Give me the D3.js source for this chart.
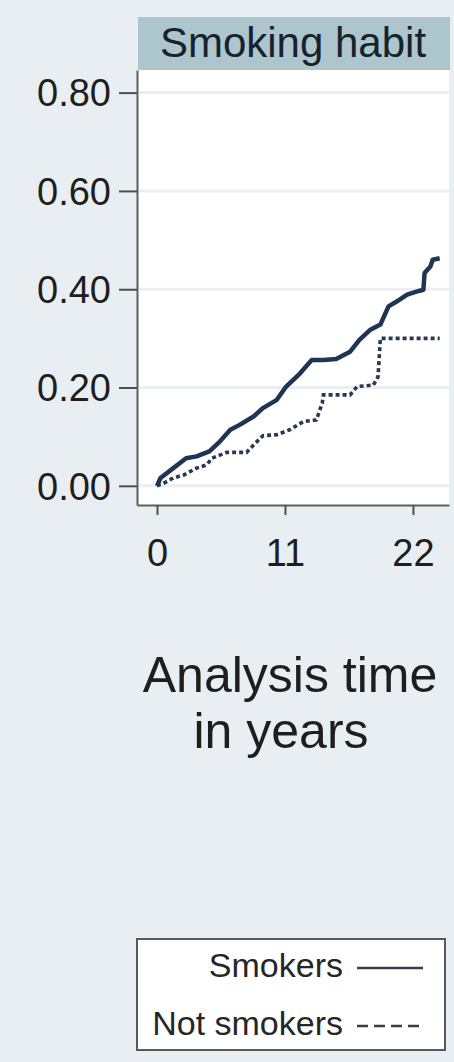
<!DOCTYPE html>
<html>
<head>
<meta charset="utf-8">
<script src="https://cdn.jsdelivr.net/npm/d3@7"></script>
<style>
  body { margin: 0; background: #e9eef2; }
  svg { display: block; font-family: "Liberation Sans", Arial, sans-serif; }
</style>
</head>
<body>
<div id="chart"></div>
<script>
// cumulative failure by analysis time (years)
const smokersTime = [0, 0.3, 1.4, 2.5, 3.4, 4.5, 5.4, 6.3, 7.1, 8.3, 9.1, 10.3, 11.1, 12.3, 13.3, 14.3, 15.4, 16.6, 17.4, 18.3, 19.2, 19.9, 20.6, 21.5, 22.3, 22.9, 23.0, 23.5, 23.7, 24.3];
const smokersFail = [0, 0.016, 0.036, 0.056, 0.060, 0.070, 0.090, 0.114, 0.124, 0.141, 0.158, 0.175, 0.202, 0.229, 0.256, 0.256, 0.258, 0.273, 0.297, 0.317, 0.328, 0.365, 0.375, 0.389, 0.395, 0.399, 0.433, 0.446, 0.460, 0.463];

const notSmokersTime = [0, 0.55, 1.4, 2.3, 3.4, 4.3, 4.7, 6.0, 7.7, 8.3, 9.1, 10.3, 11.4, 12.6, 13.7, 14.2, 14.3, 16.6, 17.2, 18.6, 19.0, 19.2, 24.3];
const notSmokersFail = [0, 0.005, 0.016, 0.022, 0.036, 0.043, 0.056, 0.068, 0.068, 0.083, 0.102, 0.104, 0.114, 0.131, 0.134, 0.168, 0.185, 0.185, 0.202, 0.205, 0.222, 0.300, 0.300];

const yTicks = [0, 0.2, 0.4, 0.6, 0.8];
const xTicks = [0, 11, 22];
const panelTitle = "Smoking habit";
const axisTitle = ["Analysis time", "in years"];
const seriesNames = ["Smokers", "Not smokers"];

const W = 454, H = 1062;
const plot = { left: 137, right: 449, top: 70, bottom: 505 };

const svg = d3.select("#chart").append("svg")
    .attr("width", W)
    .attr("height", H);

svg.append("rect").attr("width", W).attr("height", H).attr("fill", "#e9eef2");

const x = d3.scaleLinear().domain([-1.72, 25.1]).range([plot.left, plot.right]);
const y = d3.scaleLinear().domain([-0.039, 0.846]).range([plot.bottom, plot.top]);

// plot area
svg.append("rect")
    .attr("x", plot.left).attr("y", plot.top)
    .attr("width", plot.right - plot.left).attr("height", plot.bottom - plot.top)
    .attr("fill", "#ffffff");

// title strip
svg.append("rect")
    .attr("x", 138).attr("y", 17)
    .attr("width", 312).attr("height", 53)
    .attr("fill", "#adc5cd");
svg.append("text")
    .attr("x", 293).attr("y", 57)
    .attr("text-anchor", "middle")
    .attr("font-size", 42)
    .attr("fill", "#18222c")
    .text(panelTitle);

// gridlines
svg.append("g").selectAll("line").data(yTicks).join("line")
    .attr("x1", plot.left + 2).attr("x2", plot.right)
    .attr("y1", d => y(d)).attr("y2", d => y(d))
    .attr("stroke", "#eceff2").attr("stroke-width", 3);

// axes
const yAxis = svg.append("g")
    .attr("transform", `translate(${plot.left},0)`)
    .call(d3.axisLeft(y).tickValues(yTicks).tickFormat(d3.format(".2f"))
        .tickSize(18).tickSizeOuter(0).tickPadding(8));
const xAxis = svg.append("g")
    .attr("transform", `translate(0,${plot.bottom})`)
    .call(d3.axisBottom(x).tickValues(xTicks).tickSize(10).tickSizeOuter(0).tickPadding(24));

[yAxis, xAxis].forEach(g => {
    g.select(".domain").attr("stroke", "#5a5f64").attr("stroke-width", 2);
    g.selectAll(".tick line").attr("stroke", "#4a4f54").attr("stroke-width", 2);
    g.selectAll(".tick text")
        .attr("font-size", 38)
        .attr("font-family", "Liberation Sans, Arial, sans-serif")
        .attr("fill", "#1e1e1e");
});
yAxis.selectAll(".tick text").attr("dy", "0.35em");
xAxis.selectAll(".tick text").attr("dy", "0.71em");

// curves
const line = d3.line()
    .x(d => x(d[0]))
    .y(d => y(d[1]))
    .curve(d3.curveLinear);

const smokers = smokersTime.map((t, i) => [t, smokersFail[i]]);
const notSmokers = notSmokersTime.map((t, i) => [t, notSmokersFail[i]]);

svg.append("path")
    .datum(notSmokers)
    .attr("d", line)
    .attr("fill", "none")
    .attr("stroke", "#2a3a4e")
    .attr("stroke-width", 3.6)
    .attr("stroke-dasharray", "4,3");

svg.append("path")
    .datum(smokers)
    .attr("d", line)
    .attr("fill", "none")
    .attr("stroke", "#1f3552")
    .attr("stroke-width", 4.5)
    .attr("stroke-linejoin", "round");

// axis title
svg.append("text")
    .attr("x", 290).attr("y", 692)
    .attr("text-anchor", "middle")
    .attr("font-size", 50)
    .attr("fill", "#1e1e1e")
    .text(axisTitle[0]);
svg.append("text")
    .attr("x", 281).attr("y", 748)
    .attr("text-anchor", "middle")
    .attr("font-size", 50)
    .attr("fill", "#1e1e1e")
    .text(axisTitle[1]);

// legend
const legend = svg.append("g");
legend.append("rect")
    .attr("x", 137).attr("y", 939)
    .attr("width", 308).attr("height", 111)
    .attr("fill", "#ffffff")
    .attr("stroke", "#555a5f")
    .attr("stroke-width", 2);

const legendRows = [
    { name: seriesNames[0], y: 977, dash: null },
    { name: seriesNames[1], y: 1035, dash: "11,6" }
];
legendRows.forEach(r => {
    legend.append("text")
        .attr("x", 343).attr("y", r.y)
        .attr("text-anchor", "end")
        .attr("font-size", 34)
        .attr("fill", "#262626")
        .text(r.name);
    legend.append("line")
        .attr("x1", 357).attr("x2", 423)
        .attr("y1", r.y - 9).attr("y2", r.y - 9)
        .attr("stroke", "#3a3f45")
        .attr("stroke-width", 2.5)
        .attr("stroke-dasharray", r.dash);
});
</script>
</body>
</html>
